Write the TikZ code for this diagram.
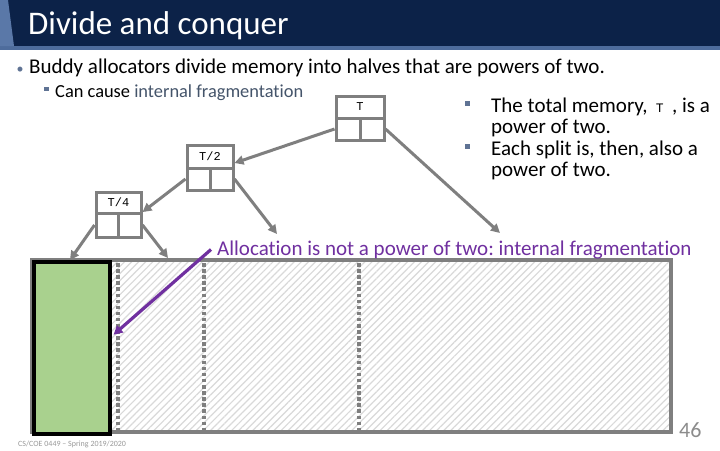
\documentclass[tikz,border=0pt]{standalone}
\usepackage{fontspec}
\setmainfont{Carlito}[Ligatures=NoCommon]
\newfontfamily\monof{Liberation Mono}
\usetikzlibrary{arrows.meta,patterns.meta,calc}
\frenchspacing
\definecolor{navy}{HTML}{0C2248}
\definecolor{stripe}{HTML}{4E6C9C}
\definecolor{lightblue}{HTML}{5A78A8}
\definecolor{slate}{HTML}{44546A}
\definecolor{bulletc}{HTML}{5F7394}
\definecolor{purp}{HTML}{7030A0}
\definecolor{treegray}{HTML}{7F7F7F}
\definecolor{greenfill}{HTML}{A9D18E}
\begin{document}
\begin{tikzpicture}[x=1pt,y=-1pt,
 cell/.style={draw=treegray,line width=3pt,fill=white,inner sep=0pt,font=\monof\fontsize{12}{12}\selectfont},
 treearrow/.style={draw=treegray,line width=3pt,-{Triangle[length=9pt,width=9pt]}},
 fragarrow/.style={draw=purp,line width=3.2pt,-{Triangle[length=9pt,width=9pt]}},
 txt/.style={anchor=base west,inner sep=0pt},
 rtxt/.style={txt,font=\fontsize{21}{21}\selectfont},
 divider/.style={draw=treegray,line width=3.5pt,dash pattern=on 3.5pt off 2.6pt},
]
\useasboundingbox (0,0) rectangle (720,450);
\fill[white] (0,0) rectangle (720,450);
% title bar
\fill[navy] (0,0) rectangle (720,46);
\fill[stripe] (0,46) rectangle (720,50);
\fill[lightblue] (0,0) -- (8,0) -- (14,46) -- (0,46) -- cycle;
\node[txt,text=white,font=\fontsize{33}{33}\selectfont] (title) at (28,34) {Divide and conquer};
% bullets
\node[txt,text=bulletc,font=\fontsize{14}{14}\selectfont] (dot1) at (16.5,73) {•};
\node[txt,font=\fontsize{21}{21}\selectfont] (b1) at (29,73) {Buddy allocators divide memory into halves that are powers of two.};
\fill[bulletc] (44,86.5) rectangle (48.5,91);
\node[txt,font=\fontsize{18.4}{18.4}\selectfont] (b2) at (55,97) {Can cause \textcolor{slate}{internal fragmentation}};
% right text
\fill[bulletc] (465,101) rectangle (470,106);
\fill[bulletc] (465,144) rectangle (470,149);
\node[rtxt] (r1) at (491,112) {The total memory, \,{\monof\fontsize{13}{13}\selectfont T}\, , is a};
\node[rtxt] (r2) at (491,133) {power of two.};
\node[rtxt] (r3) at (491,155) {Each split is, then, also a};
\node[rtxt] (r4) at (491,176) {power of two.};
% memory
\pattern[pattern={Lines[angle=45,distance=5pt,line width=1.2pt]},pattern color=black!15] (108,260) rectangle (671,432);
\draw[treegray,line width=3.5pt] (32,260) rectangle (671,432);
\draw[divider] (118,263) -- (118,430);
\draw[divider] (204,263) -- (204,430);
\draw[divider] (359,263) -- (359,430);
\node[draw=black,line width=3.5pt,fill=greenfill,minimum width=76,minimum height=172,anchor=north west,inner sep=0pt] (alloc) at (32,260) {};
% tree
\node[cell,minimum width=48,minimum height=22] (Ttop) at (360,107) {T};
\node[cell,minimum width=24,minimum height=22] (Tl) at (348,129) {};
\node[cell,minimum width=24,minimum height=22] (Tr) at (372,129) {};
\node[cell,minimum width=46,minimum height=23] (T2top) at (210,156.5) {T/2};
\node[cell,minimum width=23,minimum height=22] (T2l) at (198.5,179) {};
\node[cell,minimum width=23,minimum height=22] (T2r) at (221.5,179) {};
\node[cell,minimum width=45,minimum height=21] (T4top) at (118.5,202.5) {T/4};
\node[cell,minimum width=22.5,minimum height=24] (T4l) at (107.25,225) {};
\node[cell,minimum width=22.5,minimum height=24] (T4r) at (129.75,225) {};
\coordinate (e1) at (500,233);
\coordinate (e2) at (277,234);
\coordinate (e3) at (70,260);
\coordinate (e4) at (168,258);
\draw[treearrow] (Tl.west) -- ($(T2top.east)!0.5!(T2top.south east)$);
\draw[treearrow] (Tr.east) -- (e1);
\draw[treearrow] (T2l.west) -- ($(T4top.east)!0.8!(T4top.south east)$);
\draw[treearrow] (T2r.east) -- (e2);
\draw[treearrow] (T4l.west) -- (e3);
\draw[treearrow] (T4r.east) -- (e4);
% fragmentation label
\node[txt,text=purp,font=\fontsize{21}{21}\selectfont] (frag) at (217,255) {Allocation is not a power of two: internal fragmentation};
\draw[fragarrow] ($(frag.west)+(-6,0)$) -- ($(alloc.east)+(2,-13)$);
% footer
\node[txt,text=black!45,font=\fontsize{22}{22}\selectfont] (pg) at (679,437) {46};
\node[txt,text=black!40,font=\fontsize{8}{8}\selectfont] (ft) at (18,446) {CS/COE 0449 – Spring 2019/2020};
\end{tikzpicture}
\end{document}
